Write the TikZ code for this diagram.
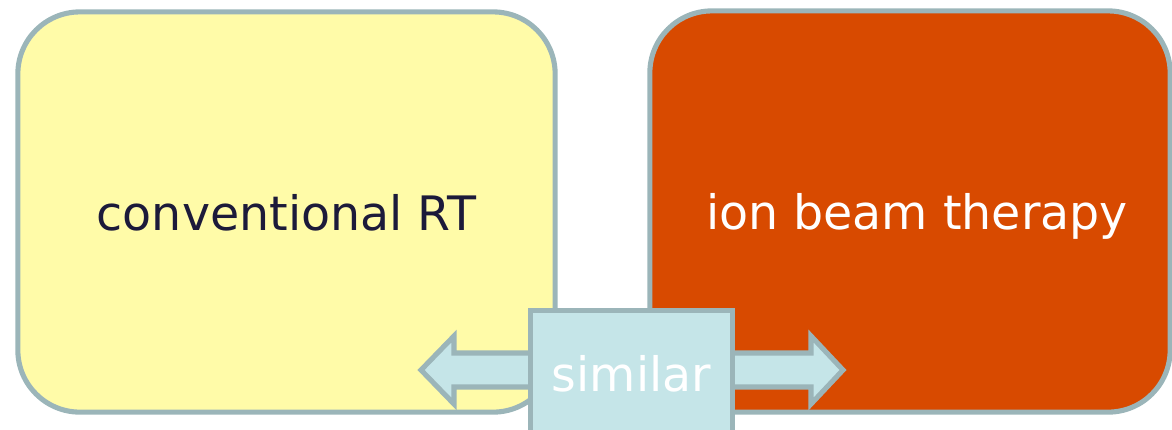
\documentclass[tikz,border=0pt]{standalone}
\usepackage{fontspec}
\setmainfont{DejaVu Sans}
\usetikzlibrary{positioning}

\definecolor{rim}{HTML}{9BB5B9}
\definecolor{paleyellow}{HTML}{FFFBA8}
\definecolor{burnt}{HTML}{D84A00}
\definecolor{iceblue}{HTML}{C5E5E8}
\definecolor{inkblue}{HTML}{1C1A3A}

\begin{document}
\begin{tikzpicture}[
    x=0.01cm, y=-0.01cm,
    box/.style={rectangle, draw=rim, line width=1.45pt, rounded corners=0.62cm, align=center, text depth=0pt, font=\fontsize{13.5}{16}\selectfont},
    tag/.style={rectangle, draw=rim, line width=1.45pt, fill=iceblue, text=white, font=\fontsize{13.5}{16}\selectfont},
    link/.style={draw=rim, line width=1.45pt, fill=iceblue, line join=miter}
]
\useasboundingbox (0,0) rectangle (1172,429);

% Nodes using absolute positioning
\node[box, fill=paleyellow, text=inkblue, minimum width=5.37cm, minimum height=4.0cm] (conv) at (286.5, 212) {conventional RT};
\node[box, fill=burnt, text=white, minimum width=5.2cm, minimum height=4.01cm] (ion) at (910, 211.5) {\hspace*{0.14cm}ion beam therapy};

% Double arrow between the two
\draw[link] (421,370) -- (454,336) -- (454,353) -- (811,353) -- (811,336) -- (843,370)
    -- (811,404) -- (811,387) -- (454,387) -- (454,404) -- cycle;

\node[tag, minimum width=2.02cm, minimum height=1.3cm] (sim) at (631.5, 375.5) {\raisebox{0.04cm}{similar}};

\end{tikzpicture}
\end{document}
